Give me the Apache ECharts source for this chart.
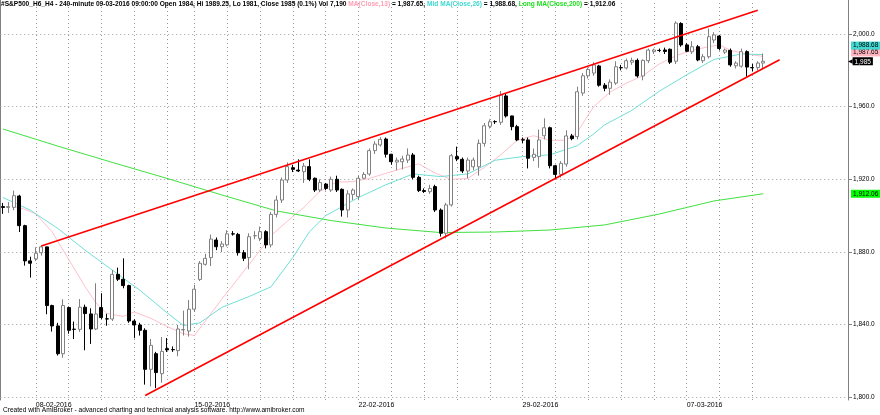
<!DOCTYPE html>
<html><head><meta charset="utf-8">
<script src="https://cdn.jsdelivr.net/npm/echarts@6/dist/echarts.min.js"></script>
<style>html,body{margin:0;padding:0;background:#fff}#c{width:880px;height:415px}</style>
</head><body><div id="c"></div>
<script>
// ---- data ----
const opens = [1905,1904.5,1904.6,1910.8,1894.5,1875.1,1876.2,1879.6,1882.8,1850.5,
1839.3,1824,1849.4,1837.5,1837.4,1849.6,1845.9,1837.6,1849.4,1843.2,
1843.1,1867.7,1865,1861.5,1842,1839.8,1836.9,1815.4,1824,1813,
1826.8,1826.3,1825.7,1837.1,1836.5,1848.5,1864.9,1873.2,1876.9,1886.6,
1882.9,1883.9,1890,1889.7,1879.6,1876.9,1888.9,1887.5,1891.2,1883.9,
1900.7,1908.6,1919.6,1926.4,1925.1,1924.2,1927,1920.6,1914.1,1917.4,
1914.1,1920,1914.5,1903.1,1911.7,1910.5,1920.6,1922.9,1935.8,1938.9,
1942.2,1933.8,1929.5,1929.7,1930.6,1933.4,1921.1,1913.8,1913.2,1916,
1903.1,1890.3,1905.9,1932.5,1931,1924.6,1926.9,1926.9,1939.8,1949.2,
1951.8,1951.4,1965.9,1954.9,1949,1941.8,1941.7,1932.1,1932.5,1944,
1948.4,1927.5,1922.7,1928.4,1943.9,1943.5,1967.5,1977,1978.5,1982.4,
1971.8,1970.1,1973,1981.5,1981.3,1984.5,1985.5,1976.9,1985.3,1990.3,
1991,1991.2,1991.6,1985,2005.8,1994,1990.2,1993,1985.3,1987.5,
1996.7,1998.9,1990,1991,1982.5,1982.3,1990.3,1981.5,1981.5,1984];
const closes = [1904.5,1905,1911,1894.5,1875.1,1873.8,1879.3,1882.8,1850.5,1839.3,
1824,1850.5,1836.9,1837.4,1849.6,1846.1,1837.6,1845.9,1843.9,1843.1,
1867.7,1865,1861.5,1842,1839.8,1836.9,1815.4,1828.6,1813.6,1825.3,
1826.1,1826.2,1837.6,1837.3,1848.5,1859.5,1873.8,1876.5,1887.1,1882.9,
1884.4,1890,1889.9,1879.6,1876.5,1888.4,1889,1891.2,1883.9,1900.7,
1908.6,1919.6,1927,1925.5,1924.6,1927.3,1920,1914.1,1918.2,1915,
1920,1914.1,1903.1,1912,1914.1,1920.6,1922.7,1935.8,1939.4,1942,
1933.8,1929.7,1930.5,1931.2,1933.4,1921.1,1913.8,1913.3,1915,1903.1,
1890.3,1905.9,1933,1931.2,1924.6,1930.6,1930.6,1939.8,1949.5,1951.7,
1951.7,1966.4,1954.9,1949,1941.7,1941.6,1931.6,1933.8,1941.7,1948.4,
1927.5,1922.7,1928.8,1943.9,1942.4,1968.2,1977,1980.5,1983,1971.8,
1970.1,1973.5,1982,1981.4,1985.3,1985.5,1976.9,1985.5,1991.2,1991.2,
1990.9,1990.4,1984.5,2006,1994,1990.5,1993,1985.7,1987.5,1998.5,
1999.5,1992,1991.2,1983,1984,1990.3,1981.8,1981.4,1984,1985];
const lows = [1901,1901.5,1903,1891,1872.5,1865.9,1875,1878,1845.7,1836.2,
1823,1821.8,1835,1832.1,1836,1825.9,1829.4,1837,1843,1839.4,
1842,1864,1860,1841,1832.5,1834,1807,1806,1805,1808,
1825,1825,1822.6,1834,1833.4,1847,1864,1872.5,1872.3,1881,
1880,1883,1889,1878,1875,1870.5,1887,1886,1882,1882.5,
1899,1907,1918,1924,1924,1918,1919,1913,1913,1914,
1913,1913,1899.5,1899,1908.6,1908.5,1920,1922,1934,1938,
1932,1928,1925,1925.5,1929,1920,1913,1912.5,1912,1902,
1888.5,1887.5,1905,1930,1923.5,1920.5,1925,1922,1938,1948,
1950.5,1950,1954,1947,1941,1940,1926,1930,1926.4,1942,
1926,1920.5,1921,1927,1941.5,1942,1966,1975.5,1977,1971,
1968.5,1966.5,1972,1980,1980.5,1983,1976,1974.5,1984,1989,
1990,1989,1983.5,1983.5,1993,1990,1989,1985,1984,1986.5,
1995,1991,1989,1982,1981,1981.5,1976.5,1979.5,1980,1981];
const highs = [1907,1907.5,1913.8,1911.5,1895,1877.4,1882.6,1883.5,1883,1851,
1841,1854,1850,1841.7,1854.1,1851,1849,1862.8,1857.3,1846,
1870.1,1871.4,1876.5,1862,1843,1841,1838,1832.1,1825,1833.2,
1832.6,1828,1839.8,1847.7,1853.6,1862,1875,1879,1889.6,1888,
1886,1892,1891.5,1890.5,1881,1890.3,1891.5,1894,1892,1902,
1911,1921,1929.3,1928,1931,1929,1931,1921,1920,1918,
1921.5,1922,1915,1914,1915,1922,1924,1937,1941,1943.2,
1943,1934,1932,1933,1937,1934.5,1922,1915,1917,1917,
1904,1907,1934,1938,1932,1932,1932,1942,1951,1953,
1952.5,1968.6,1967,1955,1950,1943,1943,1937,1947.4,1953.6,
1949,1928,1930,1947,1945,1971,1978.5,1981.5,1984.5,1983,
1973,1975,1985,1983,1986.5,1987,1986.5,1986,1992,1992,
1992,1992.5,1992,2007,2006.5,1995,1996,1994,1989,2003,
2001,1999.5,1992,1992,1985,1992,1991,1983.5,1985,1989.25];

const slotCount = 155;                       // bar slots on the time axis
const dateLabels = {6:'08-02-2016', 35:'15-02-2016', 65:'22-02-2016', 95:'29-02-2016', 125:'07-03-2016'};
const dayLines = [6,12,18,24,30,35,41,47,53,59,65,71,77,83,89,95,101,107,113,119,125,131,137];
const priceTicks = [1800,1840,1880,1920,1960,2000];

const ma13 = [[2,1905],[4,1903.5],[6,1901],[9,1891],[12,1876],[15,1861],[17,1852],[19,1846.2],[22,1844.5],[24,1847],[27,1843.5],[30,1839],[33,1835],[35,1834],[37,1842],[40,1854],[43,1865.5],[46,1877],[49,1889],[52,1897],[55,1904.5],[58,1913.5],[61,1918.5],[64,1918.7],[67,1920.5],[70,1923.3],[73,1926],[76,1928.5],[79,1923.5],[82,1920],[85,1920.5],[88,1926.5],[91,1933.5],[94,1941.5],[97,1944],[100,1941.5],[103,1941.5],[105,1946],[108,1960],[111,1968],[114,1973],[117,1977],[120,1983.5],[123,1988],[126,1991],[129,1993],[131,1994],[133,1991],[136,1989],[139,1987.65]];
const ma26 = [[0,1910],[5,1903],[10,1893],[15,1881],[20,1870],[25,1859],[30,1846.5],[33,1839.5],[36,1841],[40,1849.5],[45,1855.5],[49,1860.8],[53,1877],[56,1891],[59,1900],[62,1905],[65,1910],[70,1917],[75,1923],[80,1921.5],[85,1923],[90,1930.5],[95,1932.5],[100,1933.5],[105,1938.5],[108,1945],[110,1950],[115,1958],[120,1968.5],[125,1977.5],[130,1986],[135,1989],[139,1988.68]];
const ma200 = [[0,1947.7],[10,1938.3],[20,1929.3],[30,1920.5],[40,1911.4],[50,1902.6],[60,1897.3],[70,1893.2],[80,1890.7],[90,1891],[100,1892.1],[110,1894.9],[120,1900.9],[130,1908.1],[139,1912.06]];
const upperTrend = [[7,1883.3],[138,2013.1]];
const lowerTrend = [[26,1801],[142,1985.8]];
const lastVolume = 7190;
const lastTime = '09-03-2016 09:00:00';
const lastChangePct = 0.1;

// ---- build chart ----
const FONT = "'Liberation Sans', Arial, sans-serif";
const categories = Array.from({length: slotCount}, (_, i) => String(i));
const candles = opens.map((o, i) => [o, closes[i], lows[i], highs[i]]);
const n = opens.length - 1;
const fmt = (v, d) => v.toLocaleString('en-US', {minimumFractionDigits: d, maximumFractionDigits: d});
const last = a => a[a.length - 1][1];

const titleText =
  '{a|#S&P500_H6_H4 - 240-minute ' + lastTime + ' Open ' + opens[n] + ', Hi ' + highs[n] + ', Lo ' + lows[n] +
  ', Close ' + closes[n] + ' (' + lastChangePct + '%) Vol ' + fmt(lastVolume, 0) + ' }' +
  '{p|MA(Close,13)}{a| = ' + fmt(last(ma13), 2) + ', }{c|Mid MA(Close,26)}{a| = ' + fmt(last(ma26), 2) +
  ', }{g|Long MA(Close,200)}{a| = ' + fmt(last(ma200), 2) + '}';

function tag(value, bg, fg, dy) {
  return {
    silent: true, symbol: ['none', 'none'], z: 10,
    lineStyle: {color: 'rgba(0,0,0,0)', width: 0, opacity: 1},
    label: {show: true, position: 'end', distance: 3, formatter: () => fmt(value, value % 1 ? 2 : 0),
      backgroundColor: bg, color: fg, fontSize: 6.5, fontFamily: FONT, padding: [1, 2, 0, 2],
      offset: [0, dy], lineHeight: 7, opacity: 1},
    data: [{yAxis: value}]
  };
}
// price tag with a left-pointing arrow (last close)
function arrowTag(value) {
  return {
    silent: true, symbol: ['none', 'none'], z: 10,
    lineStyle: {color: 'rgba(0,0,0,0)', width: 0, opacity: 1},
    label: {show: true, position: 'end', distance: 0,
      formatter: () => '{arr|\u25C0}{t|' + fmt(value, 0) + '}',
      rich: {
        arr: {fontSize: 6, color: '#000', fontFamily: 'DejaVu Sans', lineHeight: 7, padding: [0, 0, 0, 0]},
        t: {fontSize: 6.5, color: '#fff', backgroundColor: '#000', fontFamily: FONT, padding: [1, 2, 0, 2], lineHeight: 7}
      }},
    data: [{yAxis: value}]
  };
}

const TS = 6.6;
const chart = echarts.init(document.getElementById('c'), null, {renderer: 'canvas'});
chart.setOption({
  animation: false,
  backgroundColor: '#ffffff',
  textStyle: {fontFamily: FONT},
  title: {text: titleText, left: 1, top: 0, padding: 0,
    textStyle: {rich: {
      a: {fontSize: TS, color: '#000', fontFamily: FONT, lineHeight: 8},
      p: {fontSize: TS, color: '#ffa0b4', fontFamily: FONT, lineHeight: 8},
      c: {fontSize: TS, color: '#40d8d0', fontFamily: FONT, lineHeight: 8},
      g: {fontSize: TS, color: '#20e020', fontFamily: FONT, lineHeight: 8}
    }}},
  grid: {left: -1, right: 32, top: 0, bottom: 15},
  xAxis: {type: 'category', data: categories, boundaryGap: true,
    axisLine: {show: false}, axisTick: {show: false}, splitLine: {show: false}, splitArea: {show: false},
    axisLabel: {interval: 0, formatter: (v, i) => dateLabels[i] || '', align: 'left',
      margin: 2, fontSize: 7, color: '#000', fontFamily: FONT}},
  yAxis: [
    {type: 'value', position: 'right', min: 1798.52, max: 2018.72, scale: true,
      axisLine: {show: true, lineStyle: {color: '#808080', width: 1}},
      axisTick: {show: true, length: 4, customValues: priceTicks, lineStyle: {color: '#808080'}},
      axisLabel: {customValues: priceTicks, formatter: v => fmt(v, 1), fontSize: 6.5, color: '#000', margin: 5, fontFamily: FONT},
      splitLine: {show: false}},
    {type: 'value', position: 'left', min: 1798.52, max: 2018.72, scale: true,
      axisLine: {show: true, lineStyle: {color: '#808080', width: 1}},
      axisTick: {show: false}, axisLabel: {show: false}, splitLine: {show: false}}
  ],
  series: [
    {type: 'candlestick', name: 'S&P500', data: candles, barWidth: 3.5, z: 3,
      itemStyle: {color: '#ffffff', color0: '#000000', borderColor: '#808080', borderColor0: '#000000', borderWidth: 1},
      markLine: {silent: true, symbol: ['none', 'none'], z: 1, animation: false,
        label: {show: false}, lineStyle: {type: [1, 3], color: '#9a9a9a', width: 1},
        data: dayLines.map(i => ({xAxis: String(i)})).concat(priceTicks.map(v => ({yAxis: v})))}},
    {type: 'line', name: 'MA13', data: ma13, showSymbol: false, z: 2,
      lineStyle: {color: '#ffc0cb', width: 1}, markLine: tag(last(ma13), '#ffb6c1', '#000', -4)},
    {type: 'line', name: 'MA26', data: ma26, showSymbol: false, z: 2,
      lineStyle: {color: '#70e0d8', width: 1}, markLine: tag(last(ma26), '#40d8d0', '#000', -9)},
    {type: 'line', name: 'MA200', data: ma200, showSymbol: false, z: 2,
      lineStyle: {color: '#40e040', width: 1}, markLine: tag(last(ma200), '#00ff00', '#000', 0)},
    {type: 'line', name: 'upper', data: upperTrend, showSymbol: false, z: 4,
      lineStyle: {color: '#ff0000', width: 1.6}, markLine: arrowTag(closes[n])},
    {type: 'line', name: 'lower', data: lowerTrend, showSymbol: false, z: 4,
      lineStyle: {color: '#ff0000', width: 1.6}}
  ],
  graphic: [{type: 'text', left: 3, top: 407,
    style: {text: 'Created with AmiBroker - advanced charting and technical analysis software. http://www.amibroker.com',
      fontSize: 6.6, fill: '#000', fontFamily: FONT}}]
});
</script></body></html>
